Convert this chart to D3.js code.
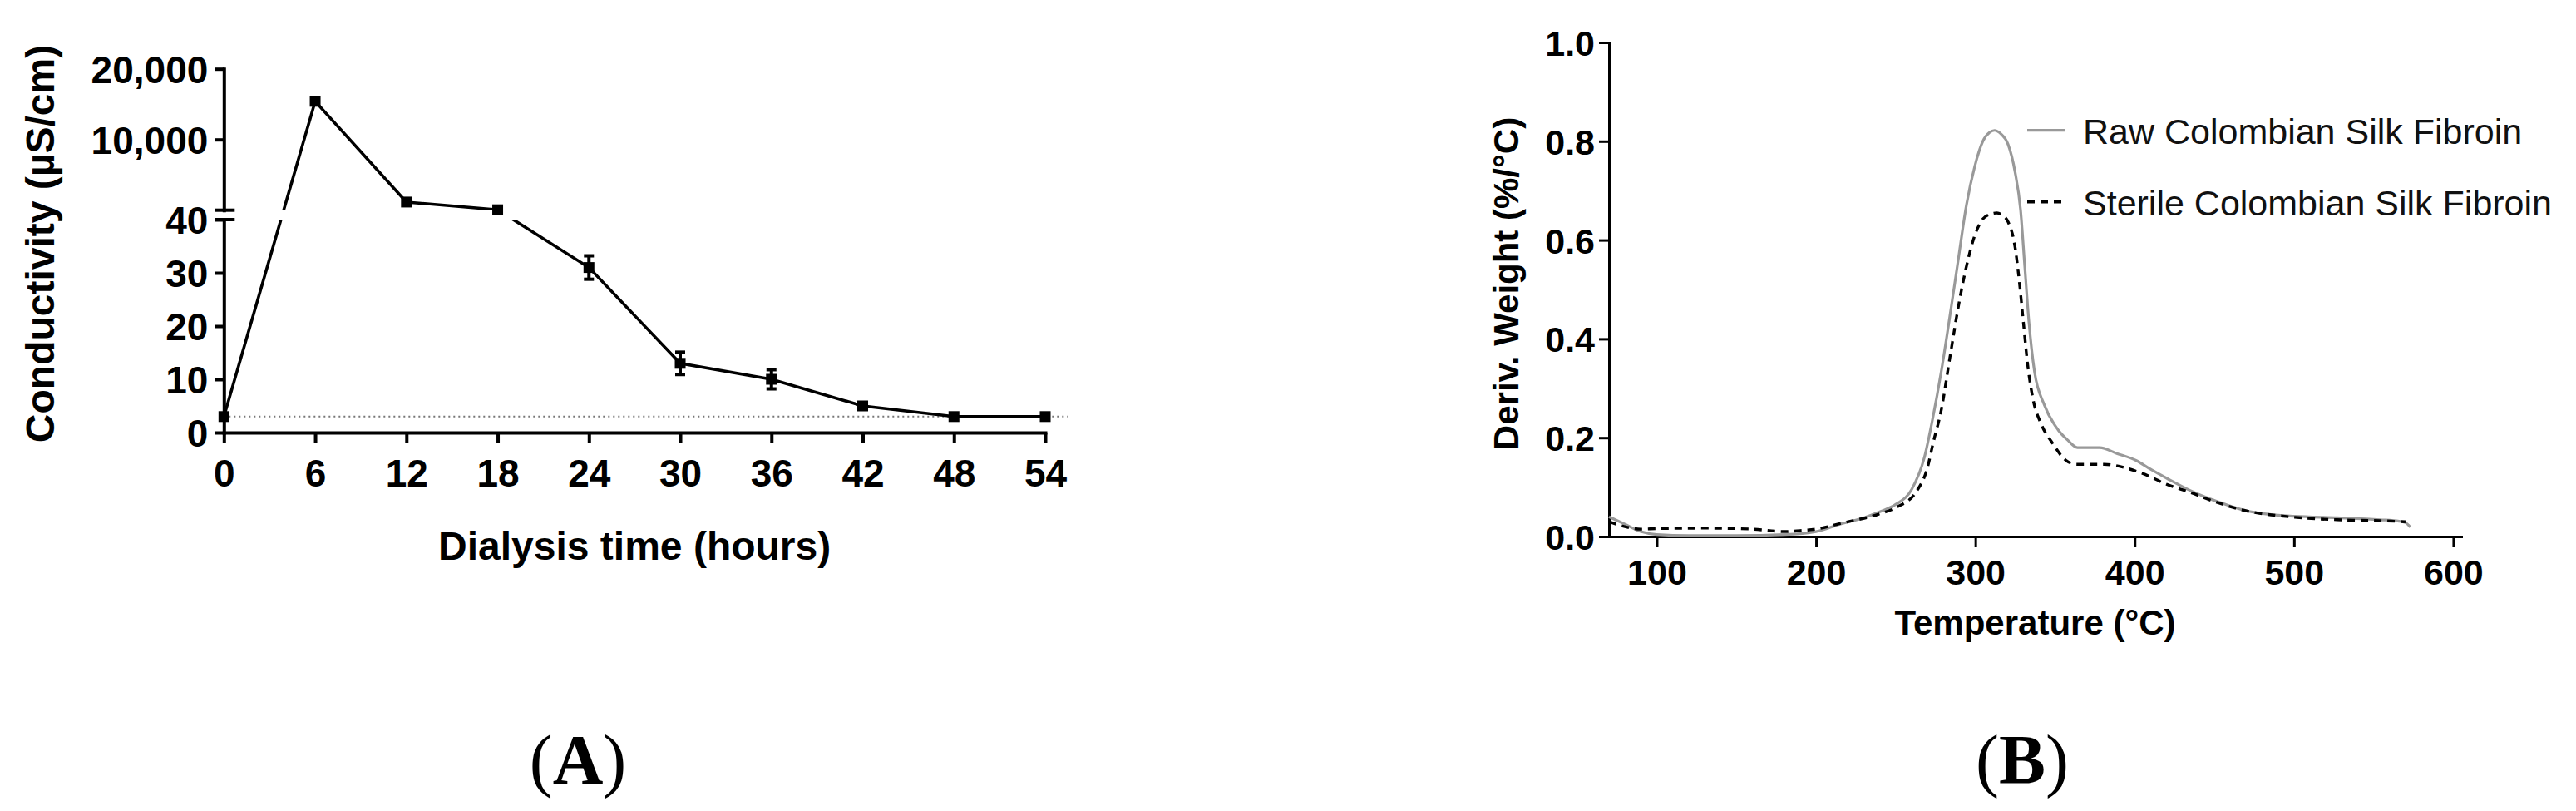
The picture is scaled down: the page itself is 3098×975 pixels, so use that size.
<!DOCTYPE html>
<html>
<head>
<meta charset="utf-8">
<script src="https://cdn.jsdelivr.net/npm/d3@7"></script>
<style>
  html, body { margin: 0; padding: 0; background: #fff; }
  svg { display: block; }
</style>
</head>
<body>
<svg id="chart" width="3098" height="975"></svg>
<script>
// ---------------- Data: panel A ----------------
const hoursA = [0, 6, 12, 18, 24, 30, 36, 42, 48, 54];
const conductivityA = [3, 15400, 1150, 60, 31, 13, 10, 5, 3, 3];
const errorA = [0.5, 0, 0, 0, 2.2, 2.1, 1.8, 0, 0, 0];
const xTicksA = [0, 6, 12, 18, 24, 30, 36, 42, 48, 54];
const yTicksLowA = [0, 10, 20, 30, 40];
const yTicksHighA = [10000, 20000];
const referenceLevelA = 3;

// ---------------- Data: panel B ----------------
const tempRaw = [70, 80, 90, 100, 120, 150, 180, 200, 215, 230, 240, 250, 260, 268, 273, 278.6, 284, 289.2, 294.4, 299.6, 304.7, 309, 312, 316, 320.5, 324.9, 328.4, 331, 333.6, 337.1, 343.2, 351.9, 358, 364, 378, 388.8, 400.8, 410, 420.6, 434.2, 447.3, 460, 468.7, 479, 500.5, 527, 553.8, 566, 570, 573];
const derivRaw = [0.040, 0.025, 0.010, 0.004, 0.002, 0.002, 0.004, 0.010, 0.025, 0.038, 0.050, 0.065, 0.095, 0.160, 0.235, 0.334, 0.446, 0.559, 0.671, 0.749, 0.800, 0.818, 0.822, 0.815, 0.794, 0.738, 0.660, 0.547, 0.435, 0.334, 0.267, 0.216, 0.195, 0.180, 0.180, 0.168, 0.154, 0.136, 0.117, 0.094, 0.076, 0.062, 0.053, 0.047, 0.041, 0.038, 0.034, 0.031, 0.028, 0.019];
const tempSterile = [70, 80, 90, 100, 130, 160, 180, 190, 200, 216, 239, 251, 263, 270, 273.4, 278.6, 284, 289.2, 294.4, 299.6, 304.8, 309, 313.5, 317, 320.5, 324.9, 327.5, 330.1, 332.7, 336.2, 341.4, 348.4, 356.9, 363.7, 381, 394, 404.6, 420.6, 434.2, 447.3, 468.7, 500.5, 527, 553.8, 570];
const derivSterile = [0.030, 0.020, 0.015, 0.016, 0.017, 0.015, 0.010, 0.012, 0.015, 0.027, 0.045, 0.060, 0.091, 0.140, 0.188, 0.256, 0.362, 0.463, 0.547, 0.609, 0.643, 0.652, 0.655, 0.650, 0.637, 0.586, 0.519, 0.435, 0.351, 0.278, 0.227, 0.189, 0.154, 0.146, 0.146, 0.139, 0.128, 0.105, 0.090, 0.074, 0.053, 0.039, 0.034, 0.032, 0.030];
const xTicksB = [100, 200, 300, 400, 500, 600];
const yTicksB = [0, 0.2, 0.4, 0.6, 0.8, 1.0];
const seriesNamesB = ["Raw Colombian Silk Fibroin", "Sterile Colombian Silk Fibroin"];

// ---------------- Drawing ----------------
const svg = d3.select("#chart");
svg.append("rect").attr("width", 3098).attr("height", 975).attr("fill", "#fff");
const SANS = "'Liberation Sans', Arial, Helvetica, sans-serif";
const SERIF = "'Liberation Serif', 'Times New Roman', serif";

function styleAxis(g, fontSize, strokeW) {
  g.attr("font-family", SANS).attr("font-size", fontSize).attr("font-weight", "bold");
  g.select(".domain").attr("stroke", "#000").attr("stroke-width", strokeW).attr("stroke-linecap", "square");
  g.selectAll(".tick line").attr("stroke", "#000").attr("stroke-width", strokeW);
  g.selectAll(".tick text").attr("fill", "#000");
}

// ===== Panel A =====
const xA = d3.scaleLinear().domain([0, 54]).range([269.3, 1257]);
const yLowA = d3.scaleLinear().domain([0, 40]).range([520, 264]);
const yHighA = d3.scaleLinear().domain([0, 20000]).range([252.7, 82.7]);
const yA = v => (v <= 40 ? yLowA(v) : yHighA(v));
const gapTop = yHighA.range()[0], gapBottom = yLowA.range()[1];

const gA = svg.append("g");

// dotted reference line
gA.append("line")
  .attr("x1", xA(0)).attr("x2", xA(54) + 28)
  .attr("y1", yLowA(referenceLevelA)).attr("y2", yLowA(referenceLevelA))
  .attr("stroke", "#777").attr("stroke-width", 2).attr("stroke-dasharray", "2,4");

// x axis
const xAxisA = gA.append("g").attr("transform", `translate(0,${yLowA(0)})`)
  .call(d3.axisBottom(xA).tickValues(xTicksA).tickSize(12).tickSizeOuter(0).tickFormat(d3.format("d")));
styleAxis(xAxisA, 46, 4);
xAxisA.selectAll(".tick text").attr("y", 65).attr("dy", 0);

// y axis lower & upper
const yAxisLowA = gA.append("g").attr("transform", `translate(${xA(0)},0)`)
  .call(d3.axisLeft(yLowA).tickValues(yTicksLowA).tickSize(11).tickSizeOuter(0).tickFormat(d3.format("d")));
styleAxis(yAxisLowA, 46, 4);
yAxisLowA.selectAll(".tick text").attr("x", -19).attr("dy", "0.36em");

const yAxisHighA = gA.append("g").attr("transform", `translate(${xA(0)},0)`)
  .call(d3.axisLeft(yHighA).tickValues(yTicksHighA).tickSize(11).tickSizeOuter(0).tickFormat(d3.format(",")));
styleAxis(yAxisHighA, 46, 4);
yAxisHighA.selectAll(".tick text").attr("x", -19).attr("dy", "0.36em");

// break marks
[gapTop, gapBottom].forEach(yy => {
  gA.append("line").attr("x1", xA(0) - 11).attr("x2", xA(0) + 13)
    .attr("y1", yy).attr("y2", yy).attr("stroke", "#000").attr("stroke-width", 4);
});

// clipping for the data line (gap at axis break)
const defs = svg.append("defs");
defs.append("clipPath").attr("id", "clipUpper").append("rect")
  .attr("x", 0).attr("y", 0).attr("width", 1600).attr("height", gapTop);
defs.append("clipPath").attr("id", "clipLower").append("rect")
  .attr("x", 0).attr("y", gapBottom).attr("width", 1600).attr("height", 600);

const ptsA = hoursA.map((h, i) => ({ h, v: conductivityA[i], e: errorA[i] }));
const lineA = d3.line().x(d => xA(d.h)).y(d => yA(d.v));
["clipUpper", "clipLower"].forEach(id => {
  gA.append("path").datum(ptsA).attr("d", lineA)
    .attr("fill", "none").attr("stroke", "#000").attr("stroke-width", 3.6)
    .attr("stroke-linejoin", "miter").attr("clip-path", `url(#${id})`);
});

// error bars
ptsA.filter(d => d.e > 0).forEach(d => {
  const cx = xA(d.h), y1 = yA(d.v - d.e), y2 = yA(d.v + d.e);
  gA.append("line").attr("x1", cx).attr("x2", cx).attr("y1", y1).attr("y2", y2)
    .attr("stroke", "#000").attr("stroke-width", 4);
  [y1, y2].forEach(yy => gA.append("line").attr("x1", cx - 6).attr("x2", cx + 6)
    .attr("y1", yy).attr("y2", yy).attr("stroke", "#000").attr("stroke-width", 4));
});

// square markers
gA.selectAll("rect.mk").data(ptsA).join("rect").attr("class", "mk")
  .attr("x", d => xA(d.h) - 6.5).attr("y", d => yA(d.v) - 6.5)
  .attr("width", 13).attr("height", 13).attr("fill", "#000");

// axis titles A
gA.append("text").attr("transform", `translate(65,293) rotate(-90)`)
  .attr("text-anchor", "middle").attr("font-family", SANS).attr("font-weight", "bold")
  .attr("font-size", 48).text("Conductivity (µS/cm)");
gA.append("text").attr("x", (xA(0) + xA(54)) / 2).attr("y", 673)
  .attr("text-anchor", "middle").attr("font-family", SANS).attr("font-weight", "bold")
  .attr("font-size", 48).text("Dialysis time (hours)");

// ===== Panel B =====
const xB = d3.scaleLinear().domain([70, 605]).range([1935, 2960]);
const yB = d3.scaleLinear().domain([0, 1]).range([645, 51]);
const gB = svg.append("g");

const xAxisB = gB.append("g").attr("transform", `translate(0,${yB(0)})`)
  .call(d3.axisBottom(xB).tickValues(xTicksB).tickSize(13).tickSizeOuter(0).tickFormat(d3.format("d")));
styleAxis(xAxisB, 43, 3);
xAxisB.selectAll(".tick text").attr("y", 58).attr("dy", 0);

const yAxisB = gB.append("g").attr("transform", `translate(${xB(70)},0)`)
  .call(d3.axisLeft(yB).tickValues(yTicksB).tickSize(12).tickSizeOuter(0).tickFormat(d3.format(".1f")));
styleAxis(yAxisB, 43, 3);
yAxisB.selectAll(".tick text").attr("x", -17).attr("dy", "0.36em");

const lineB = d3.line().x(d => xB(d[0])).y(d => yB(d[1])).curve(d3.curveMonotoneX);
const rawPts = tempRaw.map((t, i) => [t, derivRaw[i]]);
const sterPts = tempSterile.map((t, i) => [t, derivSterile[i]]);

gB.append("path").datum(rawPts).attr("d", lineB)
  .attr("fill", "none").attr("stroke", "#999").attr("stroke-width", 3.2);
gB.append("path").datum(sterPts).attr("d", lineB)
  .attr("fill", "none").attr("stroke", "#000").attr("stroke-width", 3.4).attr("stroke-dasharray", "9,7");

// legend
const legendY = [156.7, 242.7];
const legendStyles = [{ stroke: "#999", dash: null, w: 3.2 }, { stroke: "#000", dash: "9,7", w: 3.4 }];
seriesNamesB.forEach((name, i) => {
  const ln = gB.append("line").attr("x1", 2438).attr("x2", 2483)
    .attr("y1", legendY[i]).attr("y2", legendY[i])
    .attr("stroke", legendStyles[i].stroke).attr("stroke-width", legendStyles[i].w);
  if (legendStyles[i].dash) ln.attr("stroke-dasharray", legendStyles[i].dash);
  gB.append("text").attr("x", 2505).attr("y", legendY[i] + 16)
    .attr("font-family", SANS).attr("font-size", 43).attr("fill", "#111").text(name);
});

// axis titles B
gB.append("text").attr("transform", `translate(1826,341) rotate(-90)`)
  .attr("text-anchor", "middle").attr("font-family", SANS).attr("font-weight", "bold")
  .attr("font-size", 42).text("Deriv. Weight (%/°C)");
gB.append("text").attr("x", (xB(70) + xB(605)) / 2).attr("y", 763)
  .attr("text-anchor", "middle").attr("font-family", SANS).attr("font-weight", "bold")
  .attr("font-size", 42).text("Temperature (°C)");

// panel labels
[["A", 695], ["B", 2432]].forEach(([lab, cx]) => {
  const t = svg.append("text").attr("x", cx).attr("y", 942).attr("text-anchor", "middle")
    .attr("font-family", SERIF).attr("font-size", 84).attr("fill", "#000");
  t.append("tspan").text("(");
  t.append("tspan").attr("font-weight", "bold").text(lab);
  t.append("tspan").text(")");
});
</script>
</body>
</html>
